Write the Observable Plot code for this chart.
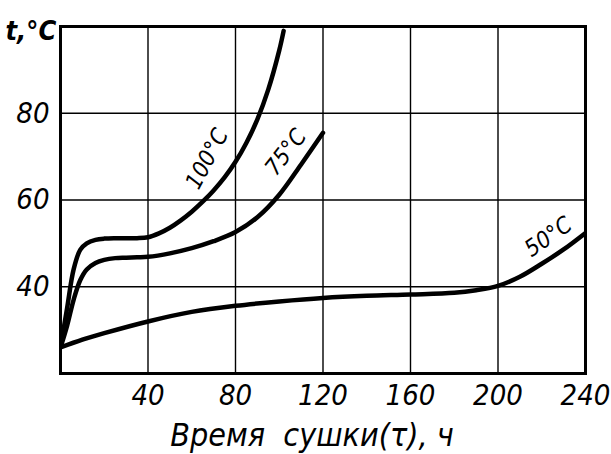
<!DOCTYPE html>
<html>
<head>
<meta charset="utf-8">
<script src="https://cdn.jsdelivr.net/npm/d3@7"></script>
<script src="https://cdn.jsdelivr.net/npm/@observablehq/plot@0.6"></script>
<style>
  html, body { margin: 0; padding: 0; background: #fff; }
  #chart svg { font-family: "DejaVu Sans Condensed", "DejaVu Sans"; font-style: italic; }
</style>
</head>
<body>
<div id="chart"></div>
<script>
// Drying time (h) and temperature (°C) for three drying regimes
const t100 = [0, 3, 6, 9, 12, 16, 20, 25, 30, 35, 40, 45, 50, 55, 60, 65, 70, 75, 80, 85, 90, 95, 100, 102];
const v100 = [26, 35, 44, 48.5, 50, 50.8, 51.1, 51.2, 51.2, 51.2, 51.4, 52.3, 53.6, 55.3, 57.3, 59.6, 62.2, 65.2, 68.8, 73.2, 78.6, 85.5, 94.5, 99];

const t75 = [0, 3, 6, 9, 12, 16, 20, 25, 30, 35, 40, 50, 60, 70, 80, 90, 100, 110, 120];
const v75 = [26, 31, 37, 41.5, 44, 45.5, 46.2, 46.6, 46.7, 46.8, 46.9, 47.7, 48.9, 50.5, 52.6, 56, 61.2, 68.2, 75.5];

const t50 = [0, 10, 20, 40, 60, 80, 100, 120, 140, 160, 180, 190, 200, 210, 220, 230, 240];
const v50 = [26, 27.8, 29.3, 32, 34.2, 35.6, 36.6, 37.4, 37.9, 38.2, 38.6, 39.2, 40.2, 42.3, 45.3, 48.6, 52.4];

const curveNames = ["100°C", "75°C", "50°C"];
const labelX = [67, 103, 223];
const labelY = [69.5, 71, 51.5];
const labelAngle = [-62, -52, -35];

const xTicks = [40, 80, 120, 160, 200, 240];
const yTicks = [40, 60, 80];
const xTitle = "Время  сушки(τ), ч";
const yTitle = "t,°C";

const toRows = (ts, vs) => ts.map((t, i) => ({t, v: vs[i]}));
const series = [toRows(t100, v100), toRows(t75, v75), toRows(t50, v50)];
const labels = curveNames.map((name, i) => ({name, x: labelX[i], y: labelY[i], a: labelAngle[i]}));

const chart = Plot.plot({
  width: 611,
  height: 454,
  marginLeft: 60,
  marginTop: 26,
  marginRight: 26,
  marginBottom: 81,
  x: {domain: [0, 240]},
  y: {domain: [20, 100]},
  marks: [
    Plot.gridX(xTicks.slice(0, -1), {stroke: "#000", strokeOpacity: 1, strokeWidth: 1.4}),
    Plot.gridY(yTicks, {stroke: "#000", strokeOpacity: 1, strokeWidth: 1.4}),
    Plot.axisX(xTicks, {tickSize: 0, tickPadding: 11, fontSize: 29, label: null}),
    Plot.axisY(yTicks, {tickSize: 0, tickPadding: 11, fontSize: 29, label: null}),
    Plot.text([xTitle], {frameAnchor: "bottom", dx: -11, dy: 72, fontSize: 32, fill: "#000"}),
    Plot.text([yTitle], {frameAnchor: "top-left", dx: -55, dy: -6, fontSize: 27, fontWeight: "bold", fill: "#000"}),
    ...series.map(rows => Plot.line(rows, {x: "t", y: "v", curve: "catmull-rom", stroke: "#000", strokeWidth: 4.5, clip: true})),
    Plot.text(labels, {x: "x", y: "y", text: "name", rotate: "a", fontSize: 23, fill: "#000"}),
    Plot.frame({stroke: "#000", strokeWidth: 3})
  ]
});
document.getElementById("chart").appendChild(chart);
</script>
</body>
</html>
